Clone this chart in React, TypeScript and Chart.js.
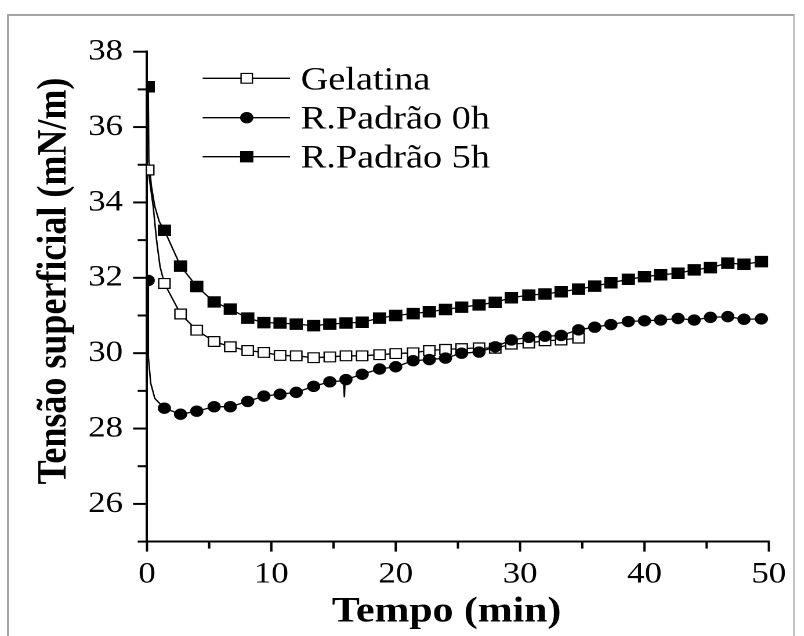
import React, { useEffect, useRef } from 'react';
import { Chart, registerables } from 'chart.js';

Chart.register(...registerables);

// ---- data ----
const tempo = [0.1, 1.4, 2.7, 4.0, 5.4, 6.7, 8.1, 9.4, 10.7, 12.0, 13.4, 14.7, 16.0, 17.3, 18.7, 20.0, 21.4, 22.7, 24.0, 25.3, 26.7, 28.0, 29.3, 30.7, 32.0, 33.3, 34.7, 36.0, 37.3, 38.7, 40.0, 41.3, 42.7, 44.0, 45.3, 46.7, 48.0, 49.4];

const gelatina = [34.86, 31.85, 31.04, 30.61, 30.31, 30.17, 30.07, 30.02, 29.94, 29.93, 29.88, 29.90, 29.93, 29.93, 29.96, 29.99, 30.01, 30.07, 30.10, 30.12, 30.14, 30.13, 30.24, 30.27, 30.33, 30.35, 30.40];

const padrao0h = [31.93, 28.54, 28.38, 28.46, 28.58, 28.58, 28.72, 28.86, 28.91, 28.96, 29.12, 29.24, 29.30, 29.44, 29.58, 29.64, 29.80, 29.83, 29.87, 30.00, 30.03, 30.17, 30.35, 30.42, 30.45, 30.47, 30.62, 30.69, 30.76, 30.84, 30.86, 30.88, 30.92, 30.88, 30.95, 30.97, 30.90, 30.91];

const padrao5h = [37.07, 33.26, 32.31, 31.77, 31.36, 31.17, 30.93, 30.81, 30.80, 30.77, 30.73, 30.77, 30.80, 30.82, 30.93, 31.00, 31.05, 31.10, 31.16, 31.22, 31.28, 31.35, 31.47, 31.54, 31.57, 31.63, 31.70, 31.78, 31.87, 31.96, 32.03, 32.08, 32.12, 32.21, 32.27, 32.39, 32.36, 32.43];

// extra points of the connecting lines (no marker)
const gelatinaCurveX = [0.5, 0.77, 1.05];
const gelatinaCurveY = [33.89, 33.0, 32.3];
const padrao0hCurveX = [0.11, 0.3, 0.63, 15.8, 15.87, 15.93];
const padrao0hCurveY = [29.9, 29.2, 28.8, 29.27, 28.83, 29.28];
const padrao5hCurveX = [0.15, 0.36, 0.63, 0.99];
const padrao5hCurveY = [35.1, 34.42, 33.89, 33.49];

const seriesNames = ['Gelatina', 'R.Padrão 0h', 'R.Padrão 5h'];
const xTitle = 'Tempo (min)';
const yTitle = 'Tensão superficial (mN/m)';
const yMin = 25, yMax = 38, xMin = 0, xMax = 50;

const SERIF = '"Liberation Serif", "Times New Roman", Times, serif';

type P = { x: number; y: number };
function pts(xs: number[], ys: number[]): P[] {
  return ys.map((y, i) => ({ x: xs[i], y }));
}
function lineData(xs: number[], ys: number[], cx: number[], cy: number[]): P[] {
  const a = pts(xs, ys).concat(pts(cx, cy));
  a.sort((p, q) => p.x - q.x);
  return a;
}

const markerStyles = [
  { style: 'rect', r: 6.9, fill: '#ffffff', bw: 1.2 },
  { style: 'circle', r: 5.2, fill: '#000000', bw: 1 },
  { style: 'rect', r: 7.4, fill: '#000000', bw: 1 },
];

function drawMarker(ctx: CanvasRenderingContext2D, kind: number, x: number, y: number) {
  const m = markerStyles[kind];
  ctx.save();
  ctx.fillStyle = m.fill;
  ctx.strokeStyle = '#000';
  ctx.lineWidth = m.bw;
  ctx.beginPath();
  if (m.style === 'circle') {
    ctx.arc(x, y, m.r, 0, Math.PI * 2);
  } else {
    const s = Math.SQRT1_2 * m.r;
    ctx.rect(x - s, y - s, 2 * s, 2 * s);
  }
  ctx.fill();
  ctx.stroke();
  ctx.restore();
}

const decorPlugin = {
  id: 'decor',
  afterDraw(chart: any) {
    const { ctx, chartArea: ca, scales } = chart;
    const xs = scales.x, ys = scales.y;
    ctx.save();
    ctx.strokeStyle = '#000';
    ctx.lineWidth = 2;
    for (let v = yMin; v <= yMax; v++) {
      const py = ys.getPixelForValue(v);
      const len = v % 2 === 0 ? 12 : 8;
      ctx.beginPath();
      ctx.moveTo(ca.left - len, py);
      ctx.lineTo(ca.left, py);
      ctx.stroke();
    }
    for (let v = xMin; v <= xMax; v += 5) {
      const px = xs.getPixelForValue(v);
      const len = v % 10 === 0 ? 10 : 7;
      ctx.beginPath();
      ctx.moveTo(px, ca.bottom);
      ctx.lineTo(px, ca.bottom + len);
      ctx.stroke();
    }
    ctx.fillStyle = '#000';
    ctx.font = `bold 36px ${SERIF}`;
    ctx.textAlign = 'center';
    ctx.textBaseline = 'alphabetic';
    ctx.fillText(xTitle, 385, 621.7);
    ctx.save();
    ctx.translate(47.4, 281);
    ctx.rotate(-Math.PI / 2);
    ctx.textBaseline = 'middle';
    ctx.fillText(yTitle, 0, 0);
    ctx.restore();
    const rows = [78.3, 117.7, 156.7];
    ctx.font = `33px ${SERIF}`;
    ctx.textAlign = 'left';
    ctx.textBaseline = 'alphabetic';
    seriesNames.forEach((name, i) => {
      const ry = rows[i];
      ctx.strokeStyle = '#000';
      ctx.lineWidth = 1.3;
      ctx.beginPath();
      ctx.moveTo(174.7, ry);
      ctx.lineTo(250, ry);
      ctx.stroke();
      drawMarker(ctx, i, 212.7, ry);
      ctx.fillStyle = '#000';
      ctx.fillText(name, 259.2, ry + 11);
    });
    ctx.restore();
  },
};

export default function App() {
  const ref = useRef<HTMLCanvasElement | null>(null);

  useEffect(() => {
    if (!ref.current) return;
    const gelTempo = tempo.slice(0, gelatina.length);
    const lineDs = (data: P[]) => ({
      data,
      showLine: true,
      borderColor: '#000',
      borderWidth: 1.3,
      pointRadius: 0,
      pointHoverRadius: 0,
      tension: 0,
      order: 10,
    });
    const markDs = (data: P[], kind: number, order: number, label: string) => ({
      label,
      data,
      showLine: false,
      pointStyle: markerStyles[kind].style,
      pointRadius: markerStyles[kind].r,
      pointHoverRadius: markerStyles[kind].r,
      backgroundColor: markerStyles[kind].fill,
      borderColor: '#000',
      borderWidth: markerStyles[kind].bw,
      order,
    });
    const chart = new Chart(ref.current, {
      type: 'scatter',
      data: {
        datasets: [
          lineDs(lineData(gelTempo, gelatina, gelatinaCurveX, gelatinaCurveY)),
          lineDs(lineData(tempo, padrao0h, padrao0hCurveX, padrao0hCurveY)),
          lineDs(lineData(tempo, padrao5h, padrao5hCurveX, padrao5hCurveY)),
          markDs(pts(gelTempo, gelatina), 0, 3, seriesNames[0]),
          markDs(pts(tempo, padrao0h), 1, 2, seriesNames[1]),
          markDs(pts(tempo, padrao5h), 2, 1, seriesNames[2]),
        ] as any,
      },
      options: {
        animation: false,
        responsive: false,
        devicePixelRatio: 2,
        layout: { padding: { top: 51.7, right: 30.2, left: 0, bottom: 0 } },
        plugins: { legend: { display: false }, tooltip: { enabled: false } },
        scales: {
          x: {
            type: 'linear',
            min: xMin,
            max: xMax,
            grid: { display: false, drawTicks: false },
            border: { display: true, color: '#000', width: 2 },
            ticks: {
              stepSize: 10,
              autoSkip: false,
              maxRotation: 0,
              padding: 15,
              color: '#000',
              font: { family: SERIF, size: 30 },
            },
            afterFit: (s: any) => { s.height = 94.4; },
          },
          y: {
            type: 'linear',
            min: yMin,
            max: yMax,
            grid: { display: false, drawTicks: false },
            border: { display: true, color: '#000', width: 2 },
            ticks: {
              stepSize: 1,
              autoSkip: false,
              padding: 20.7,
              color: '#000',
              font: { family: SERIF, size: 30 },
              callback: (v: any) => (Number(v) % 2 === 0 ? String(v) : ''),
            },
            afterFit: (s: any) => { s.width = 126.7; },
          },
        },
      },
      plugins: [decorPlugin],
    });
    let alive = true;
    const fonts: any = (document as any).fonts;
    if (fonts && fonts.ready) {
      fonts.ready.then(() => { if (alive) chart.update('none'); }).catch(() => {});
    }
    return () => { alive = false; chart.destroy(); };
  }, []);

  return (
    <div style={{ position: 'absolute', left: 0, top: 0, width: 804, height: 636, overflow: 'hidden', background: '#fff' }}>
      <div
        style={{
          position: 'absolute',
          left: 7,
          top: 14,
          width: 784,
          height: 700,
          borderLeft: '2px solid #a3a3a3',
          borderTop: '2px solid #a3a3a3',
          borderRight: '2px solid #c4c4c4',
        }}
      />
      <div style={{ position: 'absolute', left: 0, top: 0, width: 693, height: 636, transform: 'scaleX(1.16)', transformOrigin: '0 0' }}>
        <canvas ref={ref} width={693} height={636} style={{ display: 'block' }} />
      </div>
    </div>
  );
}
